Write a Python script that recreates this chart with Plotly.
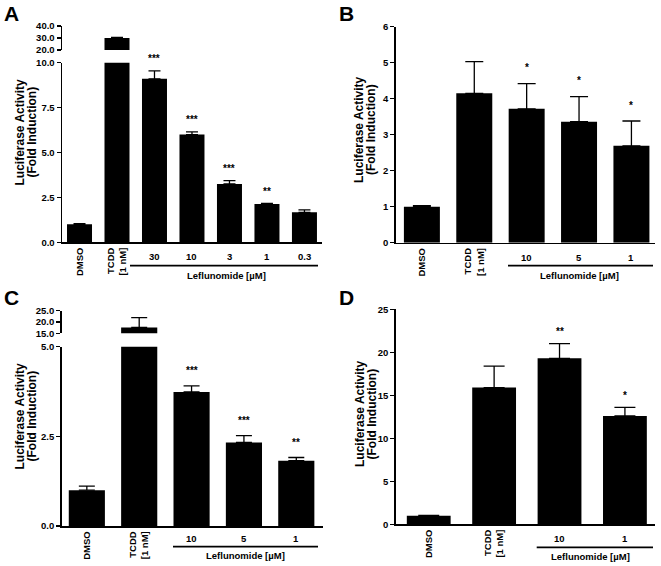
import plotly.graph_objects as go

W, H = 661, 566

# ---------------- data ----------------
A_categories = ["DMSO", "TCDD<br>[1 nM]", "30", "10", "3", "1", "0.3"]
A_values = [1.0, 30.0, 9.1, 6.0, 3.25, 2.13, 1.67]
A_errors = [0.04, 0.5, 0.45, 0.15, 0.18, 0.03, 0.13]
A_stars = ["", "", "***", "***", "***", "**", ""]
A_lower_ticks = [0, 2.5, 5, 7.5, 10]
A_upper_ticks = [20, 30, 40]

B_categories = ["DMSO", "TCDD<br>[1 nM]", "10", "5", "1"]
B_values = [1.0, 4.15, 3.72, 3.36, 2.69]
B_errors = [0.03, 0.88, 0.70, 0.70, 0.69]
B_stars = ["", "", "*", "*", "*"]
B_ticks = [0, 1, 2, 3, 4, 5, 6]

C_categories = ["DMSO", "TCDD<br>[1 nM]", "10", "5", "1"]
C_values = [1.0, 17.6, 3.74, 2.33, 1.82]
C_errors = [0.11, 4.3, 0.17, 0.19, 0.09]
C_stars = ["", "", "***", "***", "**"]
C_lower_ticks = [0, 2.5, 5]
C_upper_ticks = [15, 20, 25]

D_categories = ["DMSO", "TCDD<br>[1 nM]", "10", "1"]
D_values = [1.0, 15.9, 19.3, 12.6]
D_errors = [0.03, 2.5, 1.7, 1.0]
D_stars = ["", "", "**", "*"]
D_ticks = [0, 5, 10, 15, 20, 25]

GROUP_LABEL = "Leflunomide [µM]"
Y_TITLE_1 = "Luciferase Activity"
Y_TITLE_2 = "(Fold Induction)"

# ---------------- layout helpers ----------------
FONT = "Arial, 'Liberation Sans', Helvetica, sans-serif"


def fx(px):
    return px / W


def fy(py):
    return 1 - py / H


panels = [
    dict(letter="A", cats=A_categories, vals=A_values, errs=A_errors, stars=A_stars,
         xpx=(62, 321.7), xrng=(-0.467, 6.46), bar_w=0.667, cap=6, star_shift=12,
         segs=[dict(px=(242.3, 62.7), rng=(0, 10), ticks=A_lower_ticks, fmt=".1f"),
               dict(px=(50, 26), rng=(20, 40), ticks=A_upper_ticks, fmt=".1f")],
         letter_pos=(11, 14), title_x=(19.5, 31.5), title_y=132,
         num_y=256.7, line=(130, 318, 265.7), group_pos=(226.7, 275.7)),
    dict(letter="B", cats=B_categories, vals=B_values, errs=B_errors, stars=B_stars,
         xpx=(395.7, 655), xrng=(-0.50, 4.45), bar_w=0.687, cap=9, star_shift=16,
         segs=[dict(px=(242.7, 26.7), rng=(0, 6), ticks=B_ticks, fmt="d")],
         letter_pos=(346, 14), title_x=(359, 371), title_y=130,
         num_y=257.3, line=(508, 653, 265.7), group_pos=(579, 275)),
    dict(letter="C", cats=C_categories, vals=C_values, errs=C_errors, stars=C_stars,
         xpx=(61.7, 323), xrng=(-0.48, 4.51), bar_w=0.69, cap=8, star_shift=15,
         segs=[dict(px=(526, 346.7), rng=(0, 5), ticks=C_lower_ticks, fmt=".1f"),
               dict(px=(333.3, 310.7), rng=(15, 25), ticks=C_upper_ticks, fmt=".1f")],
         letter_pos=(11, 297), title_x=(19.5, 31.5), title_y=416,
         num_y=538.3, line=(173, 318, 546.7), group_pos=(245, 555.7)),
    dict(letter="D", cats=D_categories, vals=D_values, errs=D_errors, stars=D_stars,
         xpx=(395.7, 655), xrng=(-0.505, 3.46), bar_w=0.67, cap=10.5, star_shift=12,
         segs=[dict(px=(524.3, 309.3), rng=(0, 25), ticks=D_ticks, fmt="d")],
         letter_pos=(346, 297), title_x=(360, 371.5), title_y=414,
         num_y=538.3, line=(536.7, 653, 547.3), group_pos=(590, 556.7)),
]

fig = go.Figure()
layout = dict(
    template="none",
    width=W, height=H, margin=dict(l=0, r=0, t=0, b=0, pad=0),
    paper_bgcolor="white", plot_bgcolor="white", showlegend=False,
    font=dict(family=FONT, color="black"),
)
annotations = []
shapes = []

yi = 0
for pi, p in enumerate(panels):
    xn = pi + 1
    xname = "x" if xn == 1 else f"x{xn}"
    xkey = "xaxis" if xn == 1 else f"xaxis{xn}"
    lower_y = None
    for si, seg in enumerate(p["segs"]):
        yi += 1
        yname = "y" if yi == 1 else f"y{yi}"
        ykey = "yaxis" if yi == 1 else f"yaxis{yi}"
        if si == 0:
            lower_y = yname
        n = len(p["cats"])
        fig.add_trace(go.Bar(
            x=p["cats"], y=p["vals"], width=[p["bar_w"]] * n,
            marker=dict(color="black", line=dict(width=0)),
            error_y=dict(type="data", symmetric=False, array=p["errs"],
                         arrayminus=[0] * n, color="black", thickness=1.3,
                         width=p["cap"]),
            xaxis=xname, yaxis=yname, hoverinfo="skip",
        ))
        if seg["fmt"] == "d":
            ticktext = [f"{int(t)}" for t in seg["ticks"]]
        else:
            ticktext = [f"{t:.1f}" for t in seg["ticks"]]
        layout[ykey] = dict(
            domain=[fy(seg["px"][0]), fy(seg["px"][1])], range=list(seg["rng"]),
            anchor=xname, tickvals=seg["ticks"], ticktext=ticktext,
            showline=True, linecolor="black", linewidth=1.5,
            ticks="outside", ticklen=4, tickwidth=1.5, tickcolor="black",
            showgrid=False, zeroline=False, fixedrange=True, automargin=False,
            tickfont=dict(family=FONT, size=9.5, color="black", weight="bold"),
        )
    layout[xkey] = dict(
        domain=[fx(p["xpx"][0]), fx(p["xpx"][1])], range=list(p["xrng"]),
        type="category", categoryorder="array", categoryarray=p["cats"],
        anchor=lower_y, showline=True, linecolor="black", linewidth=1.5,
        ticks="", showgrid=False, zeroline=False, fixedrange=True, automargin=False,
        tickvals=p["cats"][:2], ticktext=p["cats"][:2], tickangle=-90,
        tickfont=dict(family=FONT, size=9.5, color="black", weight="bold"),
    )
    # significance stars
    for i, s in enumerate(p["stars"]):
        if s:
            annotations.append(dict(
                x=i, y=p["vals"][i] + p["errs"][i], xref=xname, yref=lower_y,
                text=s, showarrow=False, yanchor="middle", xanchor="center",
                yshift=p["star_shift"],
                font=dict(family=FONT, size=10, color="black", weight="bold")))
    # concentration labels
    for i, c in enumerate(p["cats"][2:], start=2):
        annotations.append(dict(
            x=i, y=fy(p["num_y"]), xref=xname, yref="paper", text=c,
            showarrow=False, xanchor="center", yanchor="middle",
            font=dict(family=FONT, size=9.5, color="black", weight="bold")))
    # group underline and label
    x0, x1, ly = p["line"]
    shapes.append(dict(type="line", xref="paper", yref="paper",
                       x0=fx(x0), x1=fx(x1), y0=fy(ly), y1=fy(ly),
                       line=dict(color="black", width=1.8)))
    annotations.append(dict(
        x=fx(p["group_pos"][0]), y=fy(p["group_pos"][1]), xref="paper", yref="paper",
        text=GROUP_LABEL, showarrow=False, xanchor="center", yanchor="middle",
        font=dict(family=FONT, size=9.5, color="black", weight="bold")))
    # y title (two lines)
    for t, tx in zip([Y_TITLE_1, Y_TITLE_2], p["title_x"]):
        annotations.append(dict(
            x=fx(tx), y=fy(p["title_y"]), xref="paper", yref="paper", text=t,
            textangle=-90, showarrow=False, xanchor="center", yanchor="middle",
            font=dict(family=FONT, size=12, color="black", weight="bold")))
    # panel letter
    annotations.append(dict(
        x=fx(p["letter_pos"][0]), y=fy(p["letter_pos"][1]), xref="paper", yref="paper",
        text=p["letter"], showarrow=False, xanchor="center", yanchor="middle",
        font=dict(family=FONT, size=21, color="black", weight="bold")))

layout["annotations"] = annotations
layout["shapes"] = shapes
layout["bargap"] = 0.33
fig.update_layout(**layout)
fig.write_html(
    "out.html",
    config={"displayModeBar": False, "staticPlot": True},
    post_script="document.body.style.margin='0';document.body.style.overflow='hidden';",
)
